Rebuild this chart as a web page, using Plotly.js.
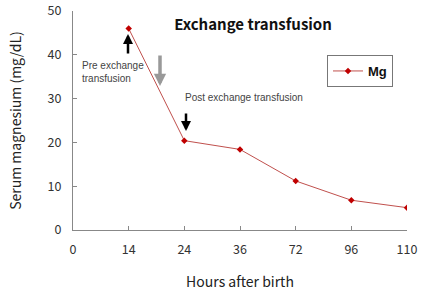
<!DOCTYPE html>
<html><head><meta charset="utf-8">
<script src="https://cdn.plot.ly/plotly-3.0.1.min.js"></script>
<style>html,body{margin:0;padding:0;background:#fff}#c{width:423px;height:291px}</style>
</head><body><div id="c"></div>
<script>
var categories = ['0','14','24','36','72','96','110'];
var hours = ['14','24','36','72','96','110'];
var mg = [46, 20.4, 18.4, 11.2, 6.8, 5.1];
var yTicks = [0,10,20,30,40,50];

var L=73, R=407, T=11, B=230, W=423, H=291;
function px(x){return (x-L)/(R-L);}
function py(y){return 1-(y-T)/(B-T);}

var trace = {
  x: hours, y: mg, type:'scatter', mode:'lines+markers', name:'<b>Mg</b>',
  line:{color:'#c0504d', width:1},
  marker:{symbol:'diamond', size:5, color:'#c00000'}
};
var annFont = {family:'Liberation Sans, Arial, sans-serif', size:10, color:'#444'};
var layout = {
  width:W, height:H,
  margin:{l:L, r:W-R, t:T, b:H-B},
  paper_bgcolor:'#fff', plot_bgcolor:'#fff',
  font:{family:'Noto Sans CJK KR, Noto Sans, sans-serif', size:12, color:'#333'},
  title:{text:'<b>Exchange transfusion</b>', font:{family:'Noto Sans CJK KR, sans-serif', size:15, color:'#111'},
    xref:'paper', x:px(253), xanchor:'center', yref:'container', y:1-25/H, yanchor:'middle'},
  xaxis:{type:'category', categoryarray:categories, categoryorder:'array', range:[0,6],
    tickmode:'array', tickvals:categories, ticktext:categories,
    showline:true, linecolor:'#888', linewidth:1, ticks:'inside', ticklen:4, tickcolor:'#888',
    showgrid:false, zeroline:false, ticklabelstandoff:8,
    tickfont:{size:12.5, color:'#333'},
    title:{text:'Hours after birth', font:{size:14, color:'#222'}, standoff:20}},
  yaxis:{range:[0,50], tickvals:yTicks, showline:true, linecolor:'#888', linewidth:1,
    ticks:'inside', ticklen:4, tickcolor:'#888', showgrid:false, zeroline:false,
    ticklabelstandoff:8, tickfont:{size:12.5, color:'#333'},
    title:{text:'Serum magnesium (mg/dL)', font:{size:14, color:'#222'}, standoff:22}},
  showlegend:true,
  legend:{x:px(327), y:py(55), xanchor:'left', yanchor:'top', bordercolor:'#777', borderwidth:1,
    bgcolor:'#fff', font:{family:'Liberation Sans, Arial, sans-serif', size:13, color:'#111'},
    itemwidth:30, tracegroupgap:0},
  annotations:[
    {xref:'paper', yref:'paper', x:px(80), y:py(58), xanchor:'left', yanchor:'top', align:'left',
     text:'Pre exchange<br>transfusion', showarrow:false, font:annFont},
    {xref:'paper', yref:'paper', x:px(183), y:py(97), xanchor:'left', yanchor:'middle',
     text:'Post exchange transfusion', showarrow:false, font:annFont},
    {xref:'paper', yref:'paper', x:px(128), y:py(34), text:'', showarrow:true, ax:0, ay:21,
     arrowhead:2, arrowsize:0.8, arrowwidth:2.5, arrowcolor:'#000'},
    {xref:'paper', yref:'paper', x:px(160), y:py(86), text:'', showarrow:true, ax:0, ay:-32,
     arrowhead:2, arrowsize:0.7, arrowwidth:3.5, arrowcolor:'#999'},
    {xref:'paper', yref:'paper', x:px(186), y:py(131), text:'', showarrow:true, ax:0, ay:-19,
     arrowhead:2, arrowsize:0.8, arrowwidth:2.5, arrowcolor:'#000'}
  ]
};
Plotly.newPlot('c',[trace],layout,{displayModeBar:false, staticPlot:true});
</script></body></html>
